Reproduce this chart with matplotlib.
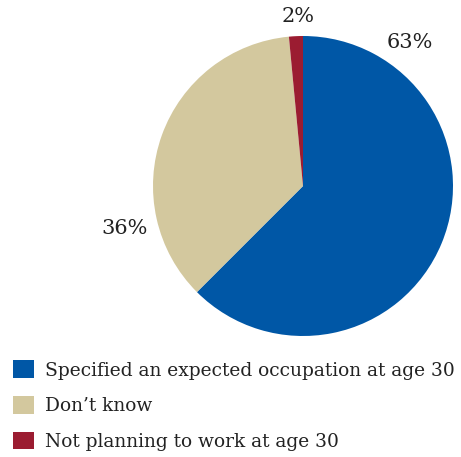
import matplotlib.pyplot as plt

plt.rcParams.update({
    'font.family': 'DejaVu Serif',
})

categories = ['Specified an expected occupation at age 30', 'Don\u2019t know', 'Not planning to work at age 30']
values = [62.5, 36.0, 1.5]
pct_labels = ['63%', '36%', '2%']
colors = ['#0057a6', '#d3c89e', '#9b1c31']

fig = plt.figure(figsize=(4.61, 4.57), dpi=100)
ax = fig.add_axes([0, 0, 1, 1])

wedges, _ = ax.pie(values, colors=colors, startangle=90, counterclock=False,
                   center=(303, 271), radius=150, frame=True)
ax.set_xlim(0, 461)
ax.set_ylim(0, 457)
ax.axis('off')

# percent labels placed by hand around the pie
label_pos = [(410, 414), (125, 229), (298, 441)]
for txt, (x, y) in zip(pct_labels, label_pos):
    ax.text(x, y, txt, ha='center', va='center', fontsize=15, color='#222222')

leg = ax.legend(wedges, categories, loc='upper left', bbox_to_anchor=(0.0, 0.24),
                frameon=False, fontsize=13.4, handlelength=1.1, handleheight=1.1,
                handletextpad=0.6, labelspacing=0.88, borderaxespad=0.3)
for t in leg.get_texts():
    t.set_color('#222222')

fig.savefig('out.png', dpi=100)
